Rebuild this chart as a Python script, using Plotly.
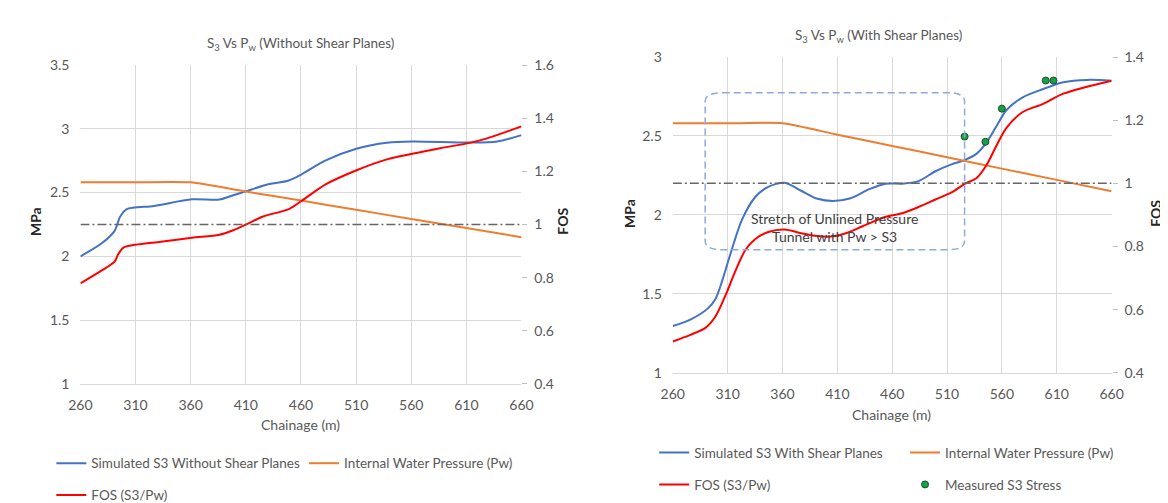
import plotly.graph_objects as go

# ---------------- data ----------------
CHAINAGE_TICKS = [260, 310, 360, 410, 460, 510, 560, 610, 660]

# Left chart: without shear planes
CH_L_S3 = [260, 279, 291, 296, 302, 327, 361, 386, 398, 412, 428, 449, 461, 482, 511, 538, 561, 612, 638, 660]
S3_L = [2.00, 2.10, 2.20, 2.31, 2.37, 2.395, 2.447, 2.445, 2.477, 2.515, 2.56, 2.595, 2.645, 2.75, 2.845, 2.89, 2.90, 2.892, 2.90, 2.95]

CH_L_FOS = [260, 279, 291, 294, 299, 312, 333, 361, 386, 398, 412, 425, 449, 461, 482, 511, 538, 561, 586, 612, 628, 660]
FOS_L = [0.778, 0.826, 0.86, 0.886, 0.913, 0.925, 0.935, 0.95, 0.961, 0.977, 1.003, 1.029, 1.058, 1.09, 1.15, 1.205, 1.245, 1.266, 1.287, 1.306, 1.323, 1.369]

CH_PW = [260, 310, 360, 410, 460, 510, 560, 610, 660]
PW = [2.58, 2.58, 2.58, 2.508, 2.437, 2.365, 2.293, 2.222, 2.15]

# Right chart: with shear planes
CH_R_S3 = [260, 276, 292, 299, 305, 314, 323, 335, 347, 362, 377, 392, 406, 422, 439, 454, 469, 484, 499, 514, 526, 537, 546, 555, 564, 579, 597, 616, 638, 660]
S3_R = [1.296, 1.337, 1.408, 1.469, 1.582, 1.786, 1.969, 2.112, 2.178, 2.204, 2.153, 2.102, 2.088, 2.105, 2.163, 2.198, 2.198, 2.214, 2.275, 2.32, 2.347, 2.388, 2.459, 2.561, 2.663, 2.745, 2.796, 2.84, 2.855, 2.85]

CH_R_FOS = [260, 276, 290, 299, 308, 317, 326, 335, 347, 362, 377, 392, 406, 421, 433, 454, 469, 484, 499, 514, 526, 537, 546, 555, 564, 579, 597, 616, 660]
FOS_R = [0.499, 0.52, 0.543, 0.579, 0.645, 0.722, 0.788, 0.823, 0.846, 0.854, 0.842, 0.833, 0.832, 0.846, 0.864, 0.894, 0.905, 0.925, 0.948, 0.971, 0.998, 1.017, 1.058, 1.119, 1.175, 1.226, 1.251, 1.284, 1.325]

CH_MEAS = [526, 545, 560, 600, 607]
S3_MEAS = [2.496, 2.463, 2.673, 2.851, 2.851]

FOS_REF_X = [260, 660]
FOS_REF_Y = [1, 1]

MPA_TICKS_L = [1, 1.5, 2, 2.5, 3, 3.5]
MPA_TICKS_R = [1, 1.5, 2, 2.5, 3]
FOS_TICKS_L = [0.4, 0.6, 0.8, 1, 1.2, 1.4, 1.6]
FOS_TICKS_R = [0.4, 0.6, 0.8, 1, 1.2, 1.4]

BOX_X = [289.5, 526]
BOX_Y = [1.779, 2.774]

# ---------------- style ----------------
W, H = 1168, 503
FONT = "Lato"
TXT = "#595959"
GRID = "#D9D9D9"
BLUE = "#4472C4"
ORANGE = "#ED7D31"
RED = "#FF0000"
REFC = "#666666"
LW = 2

def px(v):
    return v / W

def py(v):
    return 1 - v / H

def lab(v):
    return ("%g" % v)

fig = go.Figure()

# Left chart
fig.add_trace(go.Scatter(x=CH_L_S3, y=S3_L, mode="lines", name="Simulated S3 Without Shear Planes",
                         line=dict(color=BLUE, width=LW, shape="spline", smoothing=0.8),
                         xaxis="x", yaxis="y", legend="legend"))
fig.add_trace(go.Scatter(x=CH_PW, y=PW, mode="lines", name="Internal Water Pressure (Pw)",
                         line=dict(color=ORANGE, width=LW, shape="spline", smoothing=0.6),
                         xaxis="x", yaxis="y", legend="legend2"))
fig.add_trace(go.Scatter(x=CH_L_FOS, y=FOS_L, mode="lines", name="FOS (S3/Pw)",
                         line=dict(color=RED, width=LW, shape="spline", smoothing=0.8),
                         xaxis="x", yaxis="y2", legend="legend3"))
fig.add_trace(go.Scatter(x=FOS_REF_X, y=FOS_REF_Y, mode="lines", showlegend=False,
                         line=dict(color=REFC, width=1.5, dash="9px,3px,2px,3px"),
                         xaxis="x", yaxis="y2", hoverinfo="skip"))

# Right chart
fig.add_trace(go.Scatter(x=CH_R_S3, y=S3_R, mode="lines", name="Simulated S3 With Shear Planes",
                         line=dict(color=BLUE, width=LW, shape="spline", smoothing=0.8),
                         xaxis="x2", yaxis="y3", legend="legend4"))
fig.add_trace(go.Scatter(x=CH_PW, y=PW, mode="lines", name="Internal Water Pressure (Pw)",
                         line=dict(color=ORANGE, width=LW, shape="spline", smoothing=0.6),
                         xaxis="x2", yaxis="y3", legend="legend5"))
fig.add_trace(go.Scatter(x=CH_MEAS, y=S3_MEAS, mode="markers", name="Measured S3 Stress",
                         marker=dict(color="#18A045", size=7, line=dict(color="#1C4F2A", width=1)),
                         xaxis="x2", yaxis="y3", legend="legend7"))
fig.add_trace(go.Scatter(x=CH_R_FOS, y=FOS_R, mode="lines", name="FOS (S3/Pw)",
                         line=dict(color=RED, width=LW, shape="spline", smoothing=0.8),
                         xaxis="x2", yaxis="y4", legend="legend6"))
fig.add_trace(go.Scatter(x=FOS_REF_X, y=FOS_REF_Y, mode="lines", showlegend=False,
                         line=dict(color=REFC, width=1.5, dash="9px,3px,2px,3px"),
                         xaxis="x2", yaxis="y4", hoverinfo="skip"))

tickfont = dict(family=FONT, size=14, color=TXT)

def xax(domain, anchor):
    return dict(domain=domain, anchor=anchor, range=[260, 660], tickmode="array",
                tickvals=CHAINAGE_TICKS, ticktext=[lab(v) for v in CHAINAGE_TICKS],
                showgrid=True, gridcolor=GRID, gridwidth=1, zeroline=False,
                showline=True, linecolor=GRID, linewidth=1, ticks="", tickfont=tickfont,
                ticklabelstandoff=8, fixedrange=True)

def yax(domain, anchor, rng, ticks):
    return dict(domain=domain, anchor=anchor, range=rng, tickmode="array",
                tickvals=ticks, ticktext=[lab(v) for v in ticks],
                showgrid=True, gridcolor=GRID, gridwidth=1, zeroline=False,
                showline=False, ticks="", tickfont=tickfont, ticklabelstandoff=10,
                fixedrange=True)

def y2ax(overlay, anchor, rng, ticks):
    return dict(overlaying=overlay, anchor=anchor, side="right", range=rng, tickmode="array",
                tickvals=ticks, ticktext=[lab(v) for v in ticks],
                showgrid=False, zeroline=False, showline=False,
                ticks="outside", ticklen=5, tickcolor="#BFBFBF", tickwidth=1,
                tickfont=tickfont, ticklabelstandoff=4, fixedrange=True)

L_X = [px(61.7), px(512)]
L_Y = [py(380.5), py(49.8)]
R_X = [px(666.5), px(1114.5)]
R_Y = [py(369), py(41.5)]

leg_font = dict(family=FONT, size=13.5, color=TXT)
OFF = 42

def leg(text_x, y_px):
    return dict(x=px(text_x - OFF), y=py(y_px), xanchor="left", yanchor="middle",
                orientation="h", bgcolor="rgba(0,0,0,0)", borderwidth=0, font=leg_font,
                itemclick=False, itemdoubleclick=False)

rx = 16
ry = 0.055
x0, x1 = BOX_X
y0, y1 = BOX_Y
box_path = (f"M{x0+rx},{y1} L{x1-rx},{y1} Q{x1},{y1} {x1},{y1-ry} L{x1},{y0+ry} "
            f"Q{x1},{y0} {x1-rx},{y0} L{x0+rx},{y0} Q{x0},{y0} {x0},{y0+ry} "
            f"L{x0},{y1-ry} Q{x0},{y1} {x0+rx},{y1} Z")

def ann(text, x, y, size=14, color=TXT, angle=0, bold=False):
    t = f"<b>{text}</b>" if bold else text
    return dict(text=t, x=px(x), y=py(y), xref="paper", yref="paper", showarrow=False,
                xanchor="center", yanchor="middle", textangle=angle,
                font=dict(family=FONT, size=size, color=color))

fig.update_layout(
    width=W, height=H, autosize=False,
    margin=dict(l=0, r=0, t=0, b=0, pad=0),
    paper_bgcolor="white", plot_bgcolor="white",
    font=dict(family=FONT, size=14, color=TXT),
    xaxis=xax(L_X, "y"),
    yaxis=yax(L_Y, "x", [1, 3.5], MPA_TICKS_L),
    yaxis2=y2ax("y", "x", [0.4, 1.6], FOS_TICKS_L),
    xaxis2=xax(R_X, "y3"),
    yaxis3=yax(R_Y, "x2", [1, 3], MPA_TICKS_R),
    yaxis4=y2ax("y3", "x2", [0.4, 1.4], FOS_TICKS_R),
    legend=leg(74, 463),
    legend2=leg(332, 463),
    legend3=leg(74, 496),
    legend4=leg(689.5, 452),
    legend5=leg(945.6, 452),
    legend6=leg(689.5, 485),
    legend7=leg(945.6, 485),
    shapes=[dict(type="path", path=box_path, xref="x2", yref="y3",
                 line=dict(color="#8EA9DB", width=1.5, dash="7px,4px"),
                 fillcolor="rgba(0,0,0,0)", layer="above")],
    annotations=[
        ann("S<sub>3</sub> Vs P<sub>w</sub> (Without Shear Planes)", 286, 28, size=13.5),
        ann("S<sub>3</sub> Vs P<sub>w</sub> (With Shear Planes)", 877, 20, size=13.5),
        ann("Chainage (m)", 286, 423),
        ann("Chainage (m)", 890, 412),
        ann("MPa", 16, 212, color="#262626", angle=-90, bold=True),
        ann("FOS", 553.6, 212, color="#262626", angle=-90, bold=True),
        ann("MPa", 623, 204, color="#262626", angle=-90, bold=True),
        ann("FOS", 1160, 204, color="#262626", angle=-90, bold=True),
        dict(text="Stretch of Unlined Pressure<br>Tunnel with Pw &gt; S3", x=407.3, y=1.919,
             xref="x2", yref="y3", showarrow=False, xanchor="center", yanchor="middle",
             font=dict(family=FONT, size=14, color="#404040")),
    ],
    hovermode=False,
)

fig.write_html("out.html")
